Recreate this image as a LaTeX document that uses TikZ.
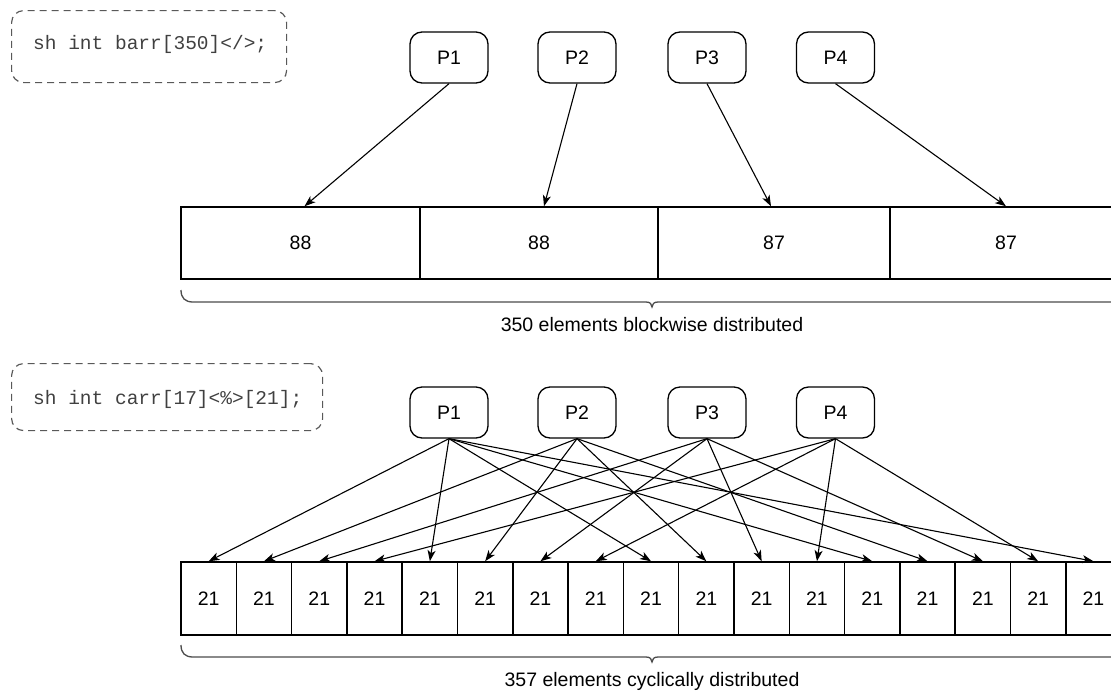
\documentclass[tikz,border=0pt]{standalone}
\usepackage{fontspec}
\setmainfont{Liberation Sans}
\newfontfamily\codefont{Liberation Mono}
\usetikzlibrary{arrows.meta}

\begin{document}
\begin{tikzpicture}[x=1pt,y=-1pt,
  lbl/.style={font=\fontsize{19.5}{23}\selectfont},
  proc/.style={draw, rounded corners=12pt, minimum width=78pt, minimum height=51pt,
    line width=1.3pt, inner sep=0pt, lbl},
  cell/.style={draw, line width=1.5pt, inner sep=0pt, lbl},
  codebox/.style={draw=black!65, dash pattern=on 7pt off 5pt, rounded corners=12pt,
    line width=1.2pt, inner sep=0pt, anchor=north west},
  code/.style={font=\codefont\fontsize{19.5}{23}\selectfont, text=black!75,
    inner sep=0pt, anchor=base west},
  conn/.style={-{Stealth[length=11pt,width=8pt,inset=3pt]}, line width=1.1pt},
  bracepath/.style={draw=black!70, line width=1.3pt},
]
\useasboundingbox (0,0) rectangle (1111,691);
\clip (0,0) rectangle (1111,691);

% ---------- block distribution ----------
\node[codebox, minimum width=275pt, minimum height=72pt] (code1box) at (11,10) {};
\node[code] (code1) at (33,49.5) {sh int barr[350]</>;};

\node[proc] (p1) at (449,57.5) {P1};
\node[proc] (p2) at (577,57.5) {P2};
\node[proc] (p3) at (707,57.5) {P3};
\node[proc] (p4) at (835.5,57.5) {P4};

\node[cell, minimum width=239pt, minimum height=72pt] (a1) at (300.5,243) {88};
\node[cell, minimum width=238pt, minimum height=72pt] (a2) at (539,243) {88};
\node[cell, minimum width=232pt, minimum height=72pt] (a3) at (774,243) {87};
\node[cell, minimum width=232pt, minimum height=72pt] (a4) at (1006,243) {87};

\draw[conn] (p1.south) -- ([xshift=4pt]a1.north);
\draw[conn] (p2.south) -- ([xshift=5pt]a2.north);
\draw[conn] (p3.south) -- ([xshift=-3pt]a3.north);
\draw[conn] (p4.south) -- (a4.north);

\path[bracepath] (181,290) .. controls (181,298) and (185,302) .. (193,302)
  -- (646,302) .. controls (650,302) and (652,304) .. (652,307)
  .. controls (652,304) and (654,302) .. (658,302)
  -- (1111,302) .. controls (1119,302) and (1123,298) .. (1123,290);
\node[lbl, anchor=base, inner sep=0pt] (t1) at (652,331) {350 elements blockwise distributed};

% ---------- cyclic distribution ----------
\node[codebox, minimum width=311pt, minimum height=67pt] (code2box) at (11,363) {};
\node[code] (code2) at (33,404) {sh int carr[17]<\%>[21];};

\node[proc] (q1) at (449,412.5) {P1};
\node[proc] (q2) at (577,412.5) {P2};
\node[proc] (q3) at (707,412.5) {P3};
\node[proc] (q4) at (835.5,412.5) {P4};

\foreach \i in {1,...,17}
  \node[cell, minimum width=55.3pt, minimum height=73pt] (c\i) at ({181+55.3*(\i-0.5)},598.5) {21};

\foreach \i in {1,5,9,13,17} \draw[conn] (q1.south) -- (c\i.north);
\foreach \i in {2,6,10,14} \draw[conn] (q2.south) -- (c\i.north);
\foreach \i in {3,7,11,15} \draw[conn] (q3.south) -- (c\i.north);
\foreach \i in {4,8,12,16} \draw[conn] (q4.south) -- (c\i.north);

\path[bracepath] (181,645) .. controls (181,653) and (185,657) .. (193,657)
  -- (646,657) .. controls (650,657) and (652,659) .. (652,662)
  .. controls (652,659) and (654,657) .. (658,657)
  -- (1111,657) .. controls (1119,657) and (1123,653) .. (1123,645);
\node[lbl, anchor=base, inner sep=0pt] (t2) at (652,686) {357 elements cyclically distributed};
\end{tikzpicture}
\end{document}
